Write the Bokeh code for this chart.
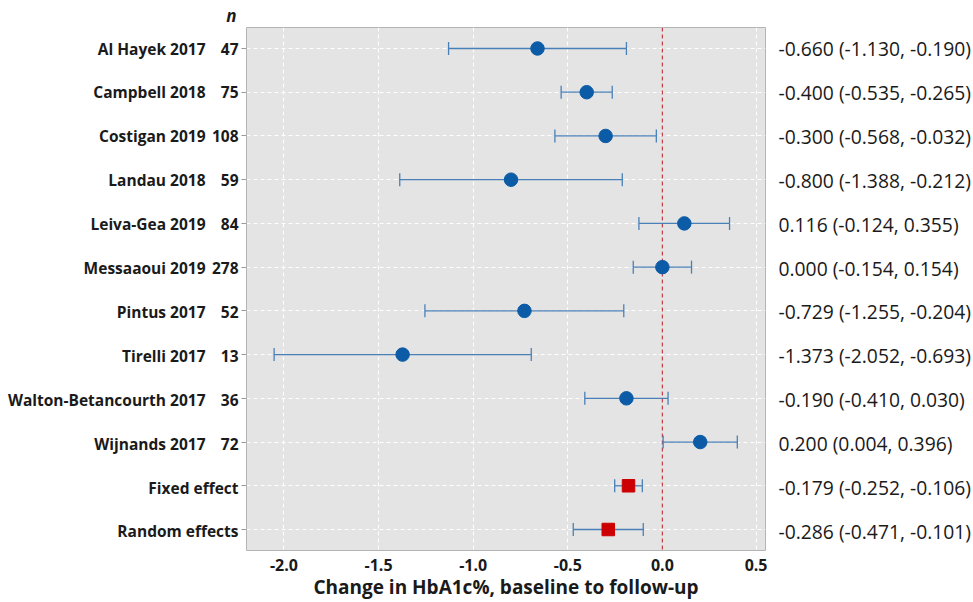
import math
from bokeh.plotting import figure
from bokeh.layouts import row
from bokeh.models import ColumnDataSource, Span, Range1d, FixedTicker
from bokeh.core.properties import value
from bokeh.embed import file_html
from bokeh.resources import INLINE

# ---- data ----
studies = ["Al Hayek 2017", "Campbell 2018", "Costigan 2019", "Landau 2018",
           "Leiva-Gea 2019", "Messaaoui 2019", "Pintus 2017", "Tirelli 2017",
           "Walton-Betancourth 2017", "Wijnands 2017"]
n_sizes = ["47", "75", "108", "59", "84", "278", "52", "13", "36", "72"]
estimates = [-0.660, -0.400, -0.300, -0.800, 0.116, 0.000, -0.729, -1.373, -0.190, 0.200]
lower = [-1.130, -0.535, -0.568, -1.388, -0.124, -0.154, -1.255, -2.052, -0.410, 0.004]
upper = [-0.190, -0.265, -0.032, -0.212, 0.355, 0.154, -0.204, -0.693, 0.030, 0.396]

pooled_names = ["Fixed effect", "Random effects"]
pooled_est = [-0.179, -0.286]
pooled_lower = [-0.252, -0.471]
pooled_upper = [-0.106, -0.101]

x_ticks = [-2.0, -1.5, -1.0, -0.5, 0.0, 0.5]
x_title = "Change in HbA1c%, baseline to follow-up"
n_header = "n"

# ---- derived ----
def fmt(v):
    return f"{v:.3f}"

def ci_text(e, l, u):
    return f"{fmt(e)} ({fmt(l)}, {fmt(u)})"

n_st = len(studies)
rows = list(range(1, n_st + 1))
prow = list(range(n_st + 1, n_st + 1 + len(pooled_names)))
all_rows = rows + prow
all_ci = [ci_text(e, l, u) for e, l, u in zip(estimates + pooled_est,
                                              lower + pooled_lower,
                                              upper + pooled_upper)]

# ---- layout constants (pixels) ----
H = 602
TOP, BOTTOM = 27, 50          # frame borders of the main plot
LEFT_W = 240                  # label panel width
MAIN_BL, MAIN_BR = 6, 2       # main plot side borders
FRAME_W = 519
MAIN_W = MAIN_BL + FRAME_W + MAIN_BR
RIGHT_W = 973 - LEFT_W - MAIN_W

x_start, x_end = -2.198, 0.545
y_top, y_bot = 0.52, len(all_rows) + 0.48
ppr = (H - TOP - BOTTOM) / (y_bot - y_top)      # pixels per row
side_y = Range1d(y_bot + BOTTOM / ppr, y_top - TOP / ppr)

FONT = "Open Sans"
TXT = "#1a1a1a"
BLUE = "#0b5ba6"
WHISK = "#4a80b8"
RED = "#cc0000"

# ---------------- main plot ----------------
p = figure(width=MAIN_W, height=H, output_backend="svg", toolbar_location=None,
           x_range=Range1d(x_start, x_end), y_range=Range1d(y_bot, y_top),
           min_border_left=MAIN_BL, min_border_right=MAIN_BR, min_border_top=TOP,
           min_border_bottom=BOTTOM, frame_align=False)
p.background_fill_color = "#e4e4e4"
p.border_fill_color = "white"
p.outline_line_color = "#b4b4b4"

p.xaxis.ticker = FixedTicker(ticks=x_ticks)
p.xaxis.major_label_overrides = {t: f"{t:.1f}" for t in x_ticks}
p.xaxis.axis_line_color = None
p.xaxis.major_tick_line_color = None
p.xaxis.minor_tick_line_color = None
p.xaxis.major_label_text_font = FONT
p.xaxis.major_label_text_font_size = "16px"
p.xaxis.major_label_text_font_style = "bold"
p.xaxis.major_label_text_color = TXT
p.xaxis.major_label_standoff = 2
p.xaxis.axis_label = x_title
p.xaxis.axis_label_text_font = FONT
p.xaxis.axis_label_text_font_size = "19px"
p.xaxis.axis_label_text_font_style = "bold"
p.xaxis.axis_label_text_color = TXT
p.xaxis.axis_label_standoff = 0

p.yaxis.ticker = FixedTicker(ticks=all_rows)
p.yaxis.major_label_overrides = {r: "" for r in all_rows}
p.yaxis.major_label_text_font_size = "1px"
p.yaxis.major_label_standoff = 0
p.yaxis.axis_line_color = None
p.yaxis.major_tick_line_color = "#9a9a9a"
p.yaxis.major_tick_out = 5
p.yaxis.major_tick_in = 0
p.yaxis.minor_tick_line_color = None

p.xgrid.ticker = FixedTicker(ticks=x_ticks)
p.ygrid.ticker = FixedTicker(ticks=all_rows)
for g in (p.xgrid, p.ygrid):
    g.grid_line_color = "white"
    g.grid_line_dash = "4 3"
    g.grid_line_width = 1

p.add_layout(Span(location=0, dimension="height", line_color="#c0404a",
                  line_dash="4 3", line_width=1.2, level="underlay"))

def draw_ci(src, marker, size, color):
    kw = dict(source=src, line_color=WHISK, line_width=1.3)
    p.segment(x0="lo", y0="y", x1="hi", y1="y", **kw)
    p.scatter(x="lo", y="y", marker="dash", angle=math.pi / 2, size=13, **kw)
    p.scatter(x="hi", y="y", marker="dash", angle=math.pi / 2, size=13, **kw)
    p.scatter(x="est", y="y", source=src, marker=marker, size=size,
              fill_color=color, line_color=color)

draw_ci(ColumnDataSource(dict(y=rows, est=estimates, lo=lower, hi=upper)),
        "circle", 13.5, BLUE)
draw_ci(ColumnDataSource(dict(y=prow, est=pooled_est, lo=pooled_lower, hi=pooled_upper)),
        "square", 12.5, RED)

# ---------------- side panels ----------------
def side_fig(w):
    f = figure(width=w, height=H, output_backend="svg", toolbar_location=None,
               x_range=Range1d(0, w), y_range=side_y,
               x_axis_type=None, y_axis_type=None, min_border=0,
               frame_align=False)
    f.outline_line_color = None
    f.grid.visible = False
    f.background_fill_color = "white"
    f.border_fill_color = "white"
    return f

left = side_fig(LEFT_W)
name_x = [205] * n_st + [LEFT_W - 2] * len(pooled_names)
left.text(x=name_x, y=all_rows, text=studies + pooled_names,
          text_align="right", text_baseline="middle", text_font=value(FONT),
          text_font_size="15.5px", text_font_style="bold", text_color=TXT)
left.text(x=[LEFT_W - 2] * n_st, y=rows, text=n_sizes,
          text_align="right", text_baseline="middle", text_font=value(FONT),
          text_font_size="15.5px", text_font_style="bold", text_color=TXT)
left.text(x=[LEFT_W - 9], y=[rows[0] - 33 / ppr], text=[n_header],
          text_align="center", text_baseline="middle", text_font=value(FONT),
          text_font_size="17px", text_font_style="bold italic", text_color=TXT)

right = side_fig(RIGHT_W)
right.text(x=[11] * len(all_rows), y=all_rows, text=all_ci,
           text_align="left", text_baseline="middle", text_font=value(FONT),
           text_font_size="19.3px", text_color=TXT)

layout = row(left, p, right, spacing=0)
open("out.html", "w").write(file_html(layout, INLINE))
